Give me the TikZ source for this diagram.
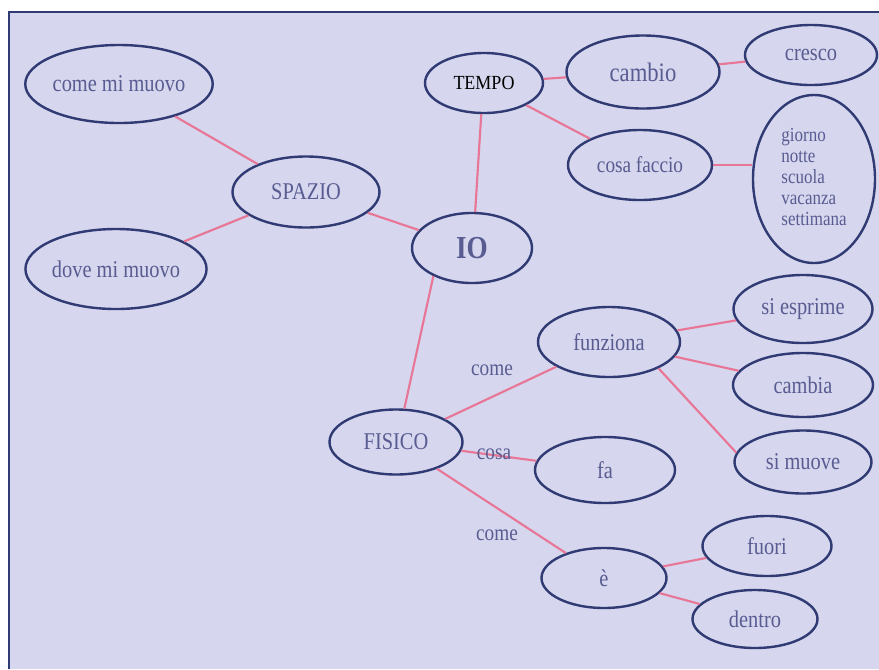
\documentclass[tikz,border=0pt]{standalone}
\usepackage{fontspec}
\setmainfont{Liberation Serif}
\newfontfamily\nf[FakeStretch=0.85]{Liberation Serif}
\newfontfamily\tf[FakeStretch=0.9]{Liberation Serif}
\usetikzlibrary{shapes.geometric}
\definecolor{bgc}{RGB}{214,214,238}
\definecolor{elc}{RGB}{48,58,115}
\definecolor{txc}{RGB}{88,92,145}
\definecolor{lnc}{RGB}{232,118,150}
\begin{document}
\begin{tikzpicture}[x=0.75pt,y=-0.75pt,
  el/.style={ellipse,draw=elc,line width=1.8pt,inner sep=0pt,text=txc,font=\nf\fontsize{18}{20}\selectfont},
  sz/.style 2 args={minimum width=#1*0.75pt,minimum height=#2*0.75pt},
  conn/.style={draw=lnc,line width=1.6pt},
  lab/.style={text=txc,font=\nf\fontsize{17}{19}\selectfont,inner sep=0pt}]
\useasboundingbox (0,0) rectangle (879,669);
\fill[white] (0,0) rectangle (879,669);
\fill[bgc] (9,12) rectangle (879,669);
\draw[elc,line width=1.3pt] (9,669) -- (9,12) -- (879,12);

% nodes
\node[el,sz={182}{78}] (mi) at (119,84) {come mi muovo};
\node[el,sz={147}{71}] (spazio) at (306,192) {SPAZIO};
\node[el,sz={175}{80}] (dove) at (116,269) {dove mi muovo};
\node[el,sz={118}{60},text=black,font=\tf\fontsize{15}{17}\selectfont] (tempo) at (484,83) {TEMPO};
\node[el,sz={153}{73},font=\nf\fontsize{20}{22}\selectfont] (cambio) at (643,72) {cambio};
\node[el,sz={132}{60}] (cresco) at (811,55) {cresco};
\node[el,sz={144}{70},font=\nf\fontsize{17}{19}\selectfont] (cosa) at (640,165) {cosa faccio};
\node[el,sz={122}{168},font=\nf\fontsize{15}{15.75}\selectfont] (list) at (814,179) {\raisebox{7pt}{\begin{tabular}{@{}l@{}}giorno\\notte\\scuola\\vacanza\\settimana\end{tabular}}};
\node[el,sz={120}{70},font=\nf\fontsize{24}{26}\selectfont\bfseries] (io) at (472,248) {IO};
\node[el,sz={133}{65}] (fisico) at (396,442) {FISICO};
\node[el,sz={142}{70}] (funziona) at (609,342) {funziona};
\node[el,sz={139}{68}] (esprime) at (803,309) {si esprime};
\node[el,sz={140}{64}] (cambia) at (803,385) {cambia};
\node[el,sz={137}{63}] (simuove) at (803,462) {si muove};
\node[el,sz={140}{66}] (fa) at (605,470) {fa};
\node[el,sz={125}{60}] (e) at (604,578) {è};
\node[el,sz={129}{60}] (fuori) at (767,546) {fuori};
\node[el,sz={125}{58}] (dentro) at (755,619) {dentro};

% connectors
\draw[conn] (mi) -- (spazio);
\draw[conn] (dove) -- (spazio);
\draw[conn] (spazio) -- (io);
\draw[conn] (tempo.265) -- (io.85);
\draw[conn] (tempo) -- (cambio);
\draw[conn] (cambio) -- (cresco);
\draw[conn] (tempo) -- (cosa);
\draw[conn] (cosa.east) -- (cosa.east -| list.west);
\draw[conn] (io.216) -- (fisico.76);
\draw[conn] (fisico) -- (funziona);
\draw[conn] (fisico) -- (fa);
\draw[conn] (fisico) -- (e);
\draw[conn] (funziona) -- (esprime);
\draw[conn] (funziona) -- (cambia);
\draw[conn] (funziona.-28) -- (simuove.172);
\draw[conn] (e) -- (fuori);
\draw[conn] (e) -- (dentro);

% labels
\node[lab] (l1) at (492,370) {come};
\node[lab] (l2) at (494,454) {cosa};
\node[lab] (l3) at (497,535) {come};
\end{tikzpicture}
\end{document}
